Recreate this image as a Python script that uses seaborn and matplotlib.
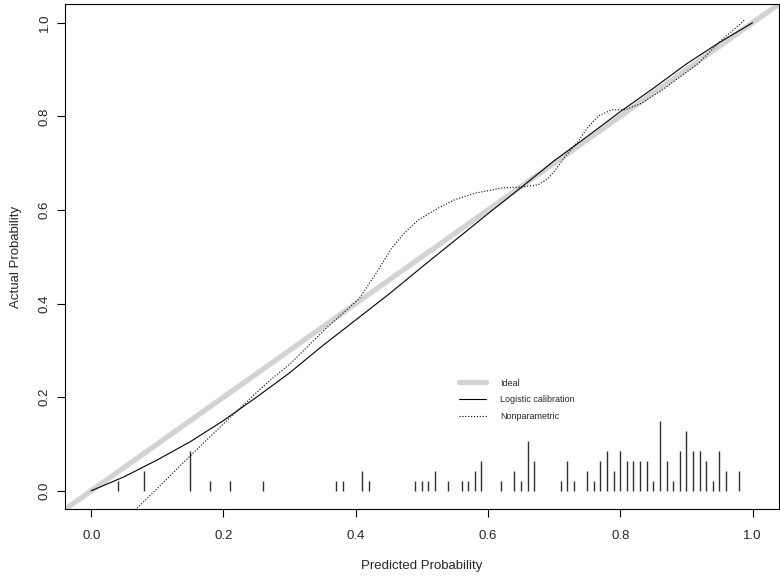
import matplotlib
matplotlib.use("Agg")
from matplotlib import pyplot as plt
from matplotlib.lines import Line2D
import pandas as pd
import seaborn as sns

# logistic calibration curve
logit_x = [0.0, 0.05, 0.1, 0.15, 0.2, 0.25, 0.3, 0.35, 0.4, 0.45, 0.5,
           0.55, 0.6, 0.65, 0.7, 0.75, 0.8, 0.85, 0.9, 0.95, 1.0]
logit_y = [0.0, 0.030, 0.066, 0.105, 0.150, 0.200, 0.252, 0.310, 0.365, 0.420, 0.478,
           0.535, 0.592, 0.648, 0.705, 0.757, 0.810, 0.860, 0.912, 0.958, 1.0]

# nonparametric (lowess) curve
np_x = [0.06, 0.10, 0.15, 0.20, 0.25, 0.277, 0.30, 0.355, 0.405, 0.43, 0.455, 0.475,
        0.495, 0.526, 0.55, 0.581, 0.621, 0.651, 0.676, 0.69, 0.701, 0.719, 0.736,
        0.75, 0.767, 0.787, 0.807, 0.832, 0.867, 0.917, 0.957, 0.977, 0.988]
np_y = [-0.05, 0.005, 0.075, 0.143, 0.21, 0.244, 0.27, 0.347, 0.410, 0.463, 0.520, 0.553,
        0.579, 0.605, 0.622, 0.636, 0.647, 0.649, 0.654, 0.666, 0.684, 0.718, 0.746,
        0.775, 0.801, 0.814, 0.814, 0.828, 0.860, 0.912, 0.968, 0.992, 1.006]

# rug of predicted values: position and count
rug_x = [0.04, 0.08, 0.15, 0.18, 0.21, 0.26, 0.37, 0.38, 0.41, 0.42,
         0.49, 0.50, 0.51, 0.52, 0.54, 0.56, 0.57, 0.58, 0.59, 0.62,
         0.64, 0.65, 0.66, 0.67, 0.71, 0.72, 0.73, 0.75, 0.76, 0.77,
         0.78, 0.79, 0.80, 0.81, 0.82, 0.83, 0.84, 0.85, 0.86, 0.87,
         0.88, 0.89, 0.90, 0.91, 0.92, 0.93, 0.94, 0.95, 0.96, 0.98]
rug_n = [1, 2, 4, 1, 1, 1, 1, 1, 2, 1,
         1, 1, 1, 2, 1, 1, 1, 2, 3, 1,
         2, 1, 5, 3, 1, 3, 1, 2, 1, 3,
         4, 2, 4, 3, 3, 3, 3, 1, 7, 3,
         1, 4, 6, 4, 4, 3, 1, 4, 2, 2]

sns.set_style("ticks")
plt.rcParams['font.family'] = ['Liberation Sans', 'DejaVu Sans']

fig = plt.figure(figsize=(7.8, 5.77), dpi=100)
ax = fig.add_axes([0.083, 0.117, 0.9157, 0.876])

lim = [-0.04, 1.04]
ideal = pd.DataFrame({'x': [-0.1, 1.1], 'y': [-0.1, 1.1]})
ax.plot(ideal.x, ideal.y, color='#d3d3d3', lw=3.8, solid_capstyle='butt', zorder=1)

logistic = pd.DataFrame({'x': logit_x, 'y': logit_y})
sns.lineplot(data=logistic, x='x', y='y', sort=False, estimator=None,
             color='black', lw=0.8, ax=ax, zorder=3)

nonpar = pd.DataFrame({'x': np_x, 'y': np_y})
sns.lineplot(data=nonpar, x='x', y='y', sort=False, estimator=None,
             color='black', lw=0.8, linestyle=(0, (1, 1.6)), ax=ax, zorder=3)

rug_h = [n * 0.15 / max(rug_n) for n in rug_n]
ax.vlines(rug_x, 0, rug_h, color='#303030', lw=1.0, zorder=2)

ax.set_xlim(lim)
ax.set_ylim(lim)
ticks = [0.0, 0.2, 0.4, 0.6, 0.8, 1.0]
ax.set_xticks(ticks)
ax.set_yticks(ticks)
ax.set_xticklabels([f'{t:.1f}' for t in ticks], fontsize=9.5)
ax.set_yticklabels([f'{t:.1f}' for t in ticks], fontsize=9.5, rotation=90, va='center')
ax.tick_params(axis='both', length=5.5, width=0.8, color='black')
ax.tick_params(axis='x', pad=9)
ax.tick_params(axis='y', pad=4.5)
for s in ax.spines.values():
    s.set_color('black')
    s.set_linewidth(0.8)
ax.set_xlabel('Predicted Probability', fontsize=9.5, labelpad=13)
ax.set_ylabel('Actual Probability', fontsize=9.5, labelpad=12)

handles = [Line2D([], [], color='#d3d3d3', lw=3.8),
           Line2D([], [], color='black', lw=0.8),
           Line2D([], [], color='black', lw=0.8, linestyle=(0, (1, 1.6)))]
ax.legend(handles, ['Ideal', 'Logistic calibration', 'Nonparametric'],
          loc='upper left', bbox_to_anchor=(0.54, 0.275), frameon=False,
          fontsize=6.5, handlelength=3.0, handletextpad=1.6, labelspacing=0.85)

fig.savefig('out.png', dpi=100)
